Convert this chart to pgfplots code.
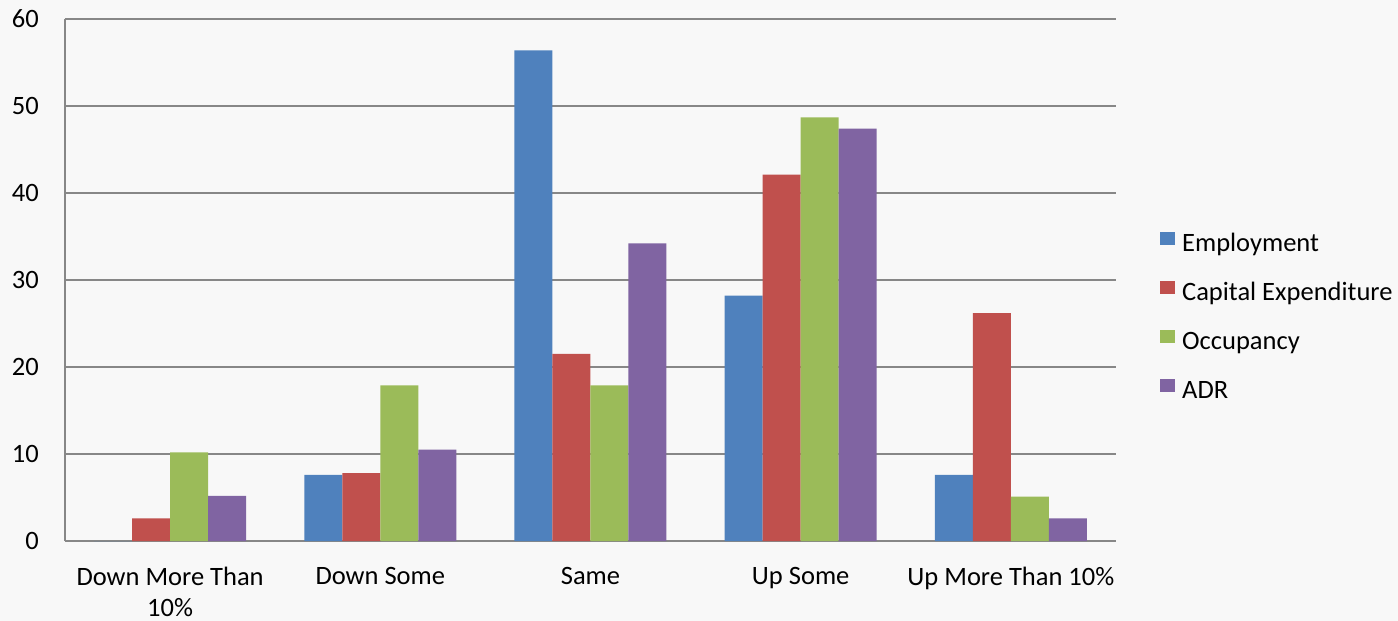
\documentclass[border=0pt]{standalone}
\usepackage{fontspec}
\setmainfont{Carlito}
\usepackage{pgfplots}
\pgfplotsset{compat=1.18}
\definecolor{bgc}{HTML}{F8F8F8}
\definecolor{gridc}{HTML}{878787}
\definecolor{c1}{HTML}{4F81BD}
\definecolor{c2}{HTML}{C0504D}
\definecolor{c3}{HTML}{9BBB59}
\definecolor{c4}{HTML}{8064A2}
\begin{document}
\fontsize{26.5}{31}\selectfont
\begin{tikzpicture}
\useasboundingbox[fill=bgc] (-65pt,-80pt) rectangle (1333pt,541pt);
\begin{axis}[
  at={(0pt,0pt)}, anchor=south west,
  scale only axis, width=1051pt, height=522pt,
  ybar=0pt, bar width=38pt,
  xmin=-0.5, xmax=4.5, ymin=0, ymax=60,
  xtick={0,1,2,3,4},
  xticklabels={{Down More Than\\10\%},{Down Some},{Same},{Up Some},{Up More Than 10\%}},
  ytick={0,10,20,30,40,50,60},
  major tick length=0pt,
  axis x line=bottom, axis y line=left,
  axis line style={-, draw=gridc, line width=1.3pt},
  ymajorgrids, grid style={draw=gridc, line width=1.3pt},
  /pgf/number format/assume math mode=true,
  tick label style={font=\fontsize{26.5}{31}\selectfont},
  xticklabel style={align=center, anchor=north, inner sep=0pt, yshift=-26pt},
  yticklabel style={anchor=east, inner sep=0pt, xshift=-26pt},
  legend style={at={(1,0.5)}, anchor=west, xshift=44pt, yshift=-38pt,
    draw=none, fill=none, inner sep=0pt, row sep=24pt, column sep=7pt,
    font=\fontsize{26.5}{31}\selectfont,
    nodes={inner sep=0pt, text height=18pt, text depth=6pt, anchor=west}},
  legend cell align=left,
  legend image code/.code={\fill[#1,draw=none] (0pt,0pt) rectangle (15pt,13pt);},
]
\addplot[fill=c1, draw=none] coordinates {(0,0) (1,7.6) (2,56.4) (3,28.2) (4,7.6)};
\addplot[fill=c2, draw=none] coordinates {(0,2.6) (1,7.8) (2,21.5) (3,42.1) (4,26.2)};
\addplot[fill=c3, draw=none] coordinates {(0,10.2) (1,17.9) (2,17.9) (3,48.7) (4,5.1)};
\addplot[fill=c4, draw=none] coordinates {(0,5.2) (1,10.5) (2,34.2) (3,47.4) (4,2.6)};
\legend{Employment, Capital Expenditure, Occupancy, ADR}
\end{axis}
\end{tikzpicture}
\end{document}
